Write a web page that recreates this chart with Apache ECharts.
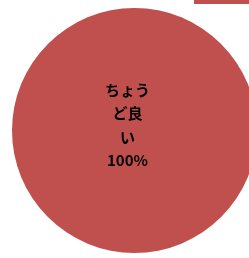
<!DOCTYPE html>
<html lang="ja">
<head>
    <meta charset="UTF-8">
    <title>pie</title>
    <script src="https://cdn.jsdelivr.net/npm/echarts@6/dist/echarts.min.js"></script>
    <style>
        * { margin: 0; padding: 0; }
        html, body { width: 249px; height: 258px; background: #fff; }
        #main { width: 249px; height: 258px; }
    </style>
</head>
<body>
<div id="main"></div>
<script>
    var names = ['ちょうど良い'];
    var values = [100];
    var labelText = 'ちょう\nど良\nい';

    var myChart = echarts.init(document.getElementById('main'));
    var option = {
        animation: false,
        color: ['#C0504D'],
        legend: {
            left: 194,
            top: -4,
            padding: 0,
            itemWidth: 70,
            itemHeight: 8,
            itemGap: 0,
            icon: 'rect',
            textStyle: { fontSize: 1, color: '#fff' },
            data: names
        },
        series: [{
            type: 'pie',
            center: [134.5, 130.5],
            radius: 122.5,
            startAngle: 90,
            data: names.map(function (n, i) { return { name: n, value: values[i] }; }),
            label: {
                show: true,
                position: 'center',
                offset: [-7, -5],
                formatter: function (p) { return labelText + '\n' + Math.round(p.percent) + '%'; },
                fontFamily: 'Noto Sans CJK JP',
                fontWeight: 'bold',
                fontSize: 15,
                lineHeight: 23.5,
                color: '#000'
            },
            labelLine: { show: false },
            emphasis: { disabled: true }
        }]
    };
    myChart.setOption(option);
</script>
</body>
</html>
